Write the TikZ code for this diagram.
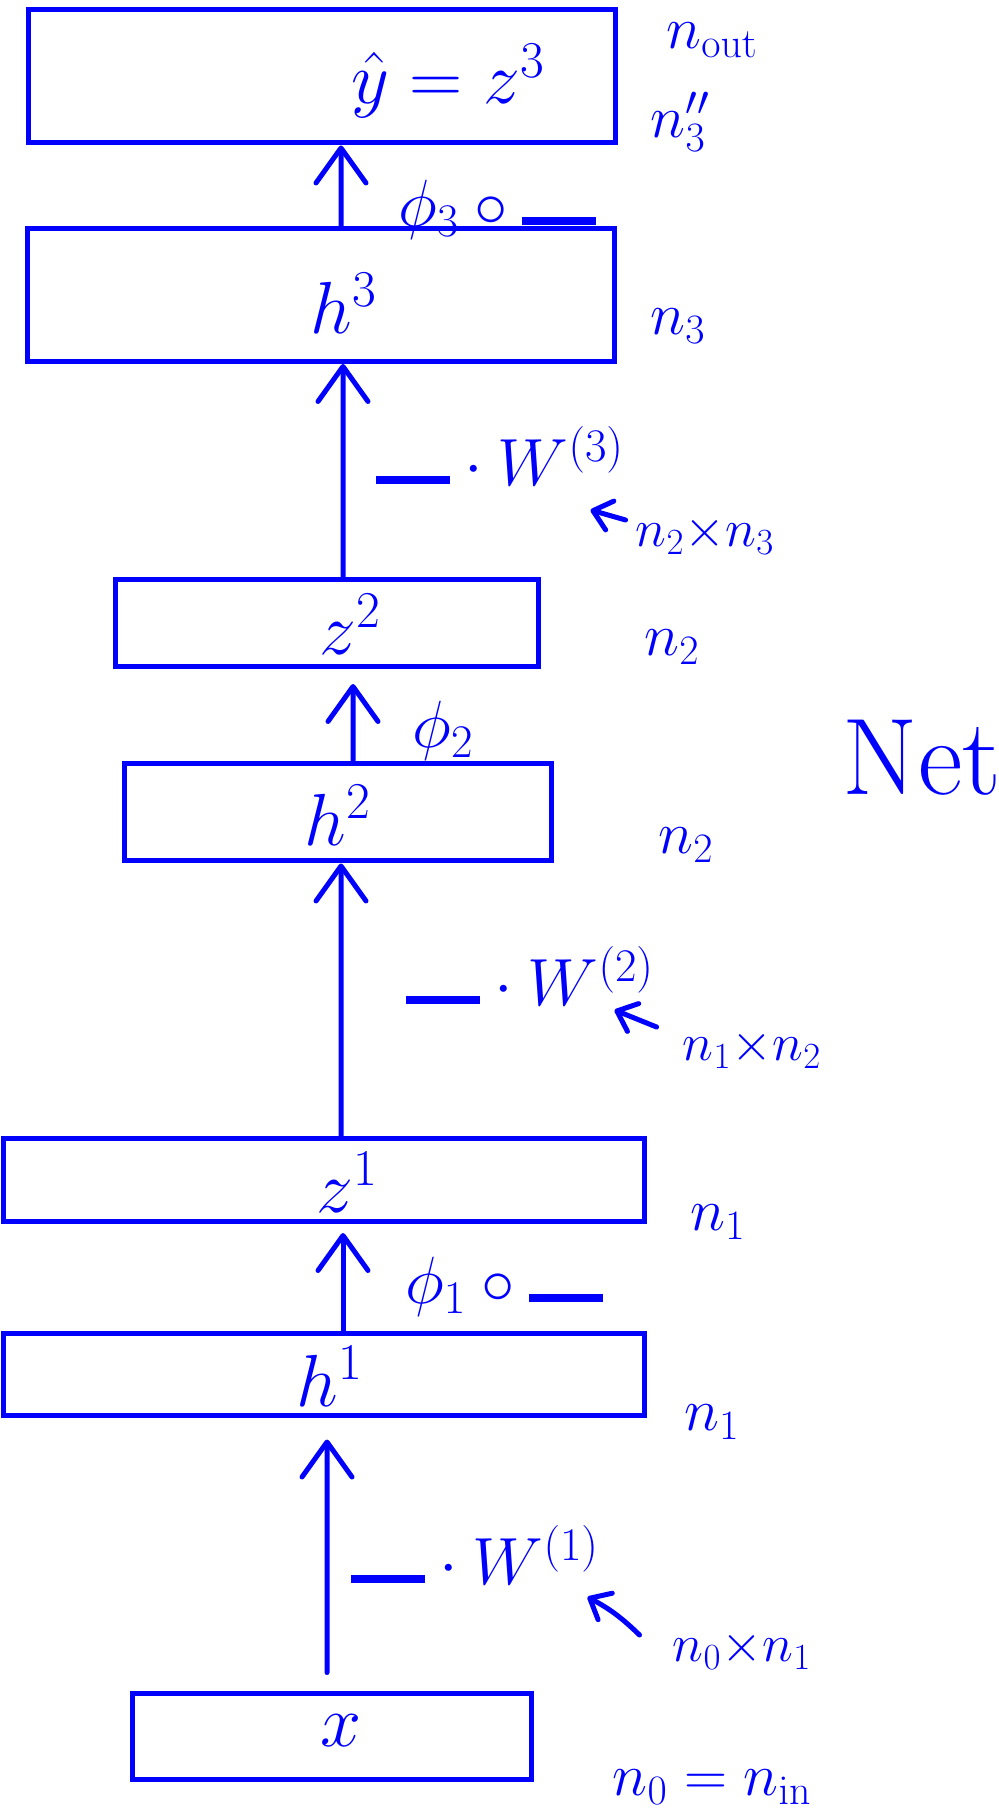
\RequirePackage{fix-cm}
\documentclass[tikz,border=0pt]{standalone}
\usepackage{amsmath,amssymb}
\usepackage{xcolor}
\usepackage{tikz}
\usetikzlibrary{arrows.meta}

\definecolor{penblue}{RGB}{0,0,255}
\newcommand{\blank}{\mbox{\rule[0.02em]{1.1em}{0.13em}}}
\newcommand{\fsz}[1]{\fontsize{#1}{#1}\selectfont}

\begin{document}
\begin{tikzpicture}[
		x=0.02cm, y=-0.02cm,
		layerbox/.style={
			rectangle,
			draw=penblue,
			line width=0.1cm,
			inner sep=0pt
		},
		boxlabel/.style={text=penblue, inner sep=0pt, font=\fsz{42}},
		oplabel/.style={text=penblue, inner sep=0pt, font=\fsz{38}},
		dimlabel/.style={text=penblue, inner sep=0pt, font=\fsz{30}},
		sidelabel/.style={text=penblue, inner sep=0pt, font=\fsz{34}},
		arrow/.style={
			-{Straight Barb[length=0.7cm,width=1cm,round]},
			draw=penblue,
			line width=0.1cm,
			line cap=round
		},
		smallarrow/.style={
			-{Straight Barb[length=0.35cm,width=0.6cm,round]},
			draw=penblue,
			line width=0.1cm,
			line cap=round
		}
		]
		\useasboundingbox (0,0) rectangle (999,1814);
		
		\node[layerbox, minimum width=11.76cm, minimum height=2.68cm] (zthree) at (322,76) {};
		\node[layerbox, minimum width=11.74cm, minimum height=2.66cm] (hthree) at (321,295) {};
		\node[layerbox, minimum width=8.46cm, minimum height=1.74cm] (ztwo) at (327,623) {};
		\node[layerbox, minimum width=8.54cm, minimum height=1.96cm] (htwo) at (338,812) {};
		\node[layerbox, minimum width=12.84cm, minimum height=1.66cm] (zone) at (324,1180) {};
		\node[layerbox, minimum width=12.84cm, minimum height=1.64cm] (hone) at (324,1374) {};
		\node[layerbox, minimum width=7.98cm, minimum height=1.72cm] (xin) at (332,1736) {};
		
		\node[boxlabel] (yhat) at (448,81) {$\hat{y} = z^3$};
		\node[boxlabel] (hthreetxt) at (344,303) {$h^3$};
		\node[boxlabel] (ztwotxt) at (350,624) {$z^2$};
		\node[boxlabel] (htwotxt) at (338,815) {$h^2$};
		\node[boxlabel] (zonetxt) at (347,1182) {$z^1$};
		\node[boxlabel] (honetxt) at (330,1376) {$h^1$};
		\node[boxlabel] (xtxt) at (341,1731) {$x$};
		
		\node[sidelabel] (nout) at (712,40) {$n_{\mathrm{out}}$};
		\node[sidelabel] (nthreepp) at (680,122) {$n''_3$};
		\node[sidelabel] (nthree) at (678,326) {$n_3$};
		\node[sidelabel] (ntwoz) at (672,647) {$n_2$};
		\node[sidelabel] (ntwoh) at (686,845) {$n_2$};
		\node[sidelabel] (nonez) at (718,1222) {$n_1$};
		\node[sidelabel] (noneh) at (712,1422) {$n_1$};
		\node[sidelabel] (nzero) at (712,1787) {$n_0 = n_{\mathrm{in}}$};
		\node[text=penblue, inner sep=0pt, font=\fsz{62}] (net) at (922,758) {Net};
		
		\node[oplabel] (phithree) at (497,210) {$\phi_3\circ\blank$};
		\node[oplabel] (wthree) at (500,456) {$\blank\cdot W^{(3)}$};
		\node[dimlabel] (dimthree) at (705,535) {$n_2{\times}n_3$};
		\node[oplabel] (phitwo) at (443,731) {$\phi_2$};
		\node[oplabel] (wtwo) at (530,976) {$\blank\cdot W^{(2)}$};
		\node[dimlabel] (dimtwo) at (752,1049) {$n_1{\times}n_2$};
		\node[oplabel] (phione) at (504,1287) {$\phi_1\circ\blank$};
		\node[oplabel] (wone) at (475,1555) {$\blank\cdot W^{(1)}$};
		\node[dimlabel] (dimone) at (742,1650) {$n_0{\times}n_1$};
		
		\draw[arrow] ([xshift=0.4cm]hthree.north) -- ([xshift=0.38cm]zthree.south);
		\draw[arrow] ([xshift=0.32cm]ztwo.north) -- ([xshift=0.44cm]hthree.south);
		\draw[arrow] ([xshift=0.3cm]htwo.north) -- ([xshift=0.52cm,yshift=-0.3cm]ztwo.south);
		\draw[arrow] ([xshift=0.34cm]zone.north) -- ([xshift=0.06cm]htwo.south);
		\draw[arrow] ([xshift=0.38cm]hone.north) -- ([xshift=0.38cm,yshift=-0.18cm]zone.south);
		\draw[arrow, shorten <=0.36cm] ([xshift=-0.1cm]xin.north) -- ([xshift=0.06cm,yshift=-0.44cm]hone.south);
		
		\draw[smallarrow] ([shift={(-10,-15)}]dimthree.west) -- ++(-35,-10);
		\draw[smallarrow] ([shift={(-26,-22)}]dimtwo.west) -- ++(-42,-17);
		\draw[smallarrow] ([shift={(-33,-15)}]dimone.west) to[bend right=8] ++(-52,-38);
		
	\end{tikzpicture}
\end{document}
